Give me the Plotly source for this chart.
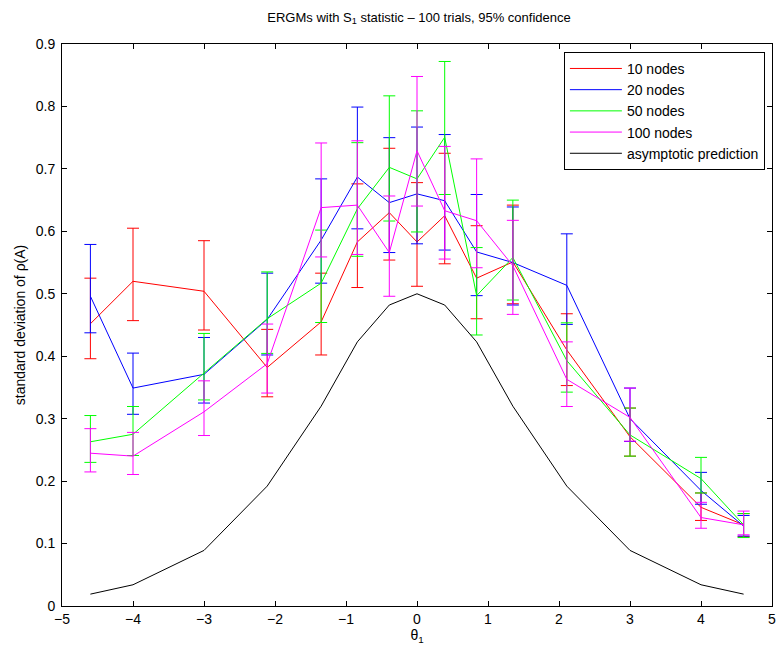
import plotly.graph_objects as go

theta = [-4.6, -4, -3, -2.11, -1.35, -0.84, -0.39, 0, 0.39, 0.84, 1.35, 2.11, 3, 4, 4.6]

n10_mean = [0.452, 0.520, 0.504, 0.382, 0.455, 0.583, 0.630, 0.583, 0.625, 0.525, 0.551, 0.410, 0.271, 0.158, 0.130]
n10_hi   = [0.525, 0.605, 0.585, 0.443, 0.533, 0.676, 0.733, 0.678, 0.725, 0.609, 0.642, 0.468, 0.317, 0.181, 0.148]
n10_lo   = [0.396, 0.457, 0.442, 0.335, 0.402, 0.510, 0.554, 0.512, 0.548, 0.460, 0.484, 0.353, 0.240, 0.137, 0.111]

n20_mean = [0.496, 0.349, 0.371, 0.459, 0.586, 0.687, 0.646, 0.660, 0.649, 0.567, 0.550, 0.5135, 0.300, 0.185, 0.128]
n20_hi   = [0.579, 0.405, 0.430, 0.533, 0.684, 0.799, 0.750, 0.767, 0.755, 0.659, 0.639, 0.596, 0.349, 0.214, 0.145]
n20_lo   = [0.4375, 0.307, 0.325, 0.402, 0.517, 0.604, 0.566, 0.580, 0.570, 0.497, 0.482, 0.451, 0.2635, 0.163, 0.112]

n50_mean = [0.263, 0.275, 0.373, 0.460, 0.517, 0.636, 0.7025, 0.684, 0.7506, 0.497, 0.558, 0.393, 0.274, 0.204, 0.130]
n50_hi   = [0.305, 0.3195, 0.4365, 0.535, 0.602, 0.742, 0.817, 0.793, 0.872, 0.574, 0.650, 0.4535, 0.317, 0.238, 0.148]
n50_lo   = [0.230, 0.241, 0.330, 0.4045, 0.454, 0.560, 0.6165, 0.599, 0.659, 0.434, 0.490, 0.3425, 0.240, 0.181, 0.1096]

n100_mean = [0.2447, 0.240, 0.311, 0.388, 0.638, 0.642, 0.566, 0.729, 0.633, 0.617, 0.545, 0.363, 0.302, 0.1417, 0.130]
n100_hi   = [0.284, 0.278, 0.3606, 0.4515, 0.7415, 0.745, 0.6566, 0.848, 0.736, 0.716, 0.6176, 0.423, 0.349, 0.166, 0.152]
n100_lo   = [0.2147, 0.2106, 0.273, 0.341, 0.559, 0.563, 0.496, 0.6405, 0.5556, 0.5417, 0.467, 0.3195, 0.264, 0.1245, 0.114]

asymptotic = [0.019, 0.034, 0.089, 0.192, 0.32, 0.423, 0.482, 0.5, 0.482, 0.423, 0.32, 0.192, 0.089, 0.034, 0.019]

series = [
    ("10 nodes", n10_mean, n10_hi, n10_lo, "#FF0000"),
    ("20 nodes", n20_mean, n20_hi, n20_lo, "#0000FF"),
    ("50 nodes", n50_mean, n50_hi, n50_lo, "#00FF00"),
    ("100 nodes", n100_mean, n100_hi, n100_lo, "#FF00FF"),
]

y_ticks = [0, 0.1, 0.2, 0.3, 0.4, 0.5, 0.6, 0.7, 0.8, 0.9]
y_ticklabels = ["0", "0.1", "0.2", "0.3", "0.4", "0.5", "0.6", "0.7", "0.8", "0.9"]
x_ticks = [-5, -4, -3, -2, -1, 0, 1, 2, 3, 4, 5]
x_ticklabels = ["\u22125", "\u22124", "\u22123", "\u22122", "\u22121", "0", "1", "2", "3", "4", "5"]

FONT = "Liberation Sans, Arial, Helvetica, sans-serif"

fig = go.Figure()
for name, m, hi, lo, col in series:
    fig.add_trace(go.Scatter(
        x=theta, y=m, mode="lines", name=name,
        line=dict(color=col, width=1),
        error_y=dict(type="data", symmetric=False,
                     array=[h - v for h, v in zip(hi, m)],
                     arrayminus=[v - l for v, l in zip(m, lo)],
                     color=col, thickness=1, width=6),
    ))
fig.add_trace(go.Scatter(
    x=theta, y=asymptotic, mode="lines", name="asymptotic prediction",
    line=dict(color="#000000", width=1),
))

axis_common = dict(
    showgrid=False, zeroline=False, showline=True, linecolor="black", linewidth=1,
    mirror="ticks", ticks="inside", ticklen=5, tickcolor="black", tickwidth=1,
    tickfont=dict(family=FONT, size=14, color="black"),
)

fig.update_layout(
    width=781, height=653,
    margin=dict(l=62, r=5, t=44, b=47),
    paper_bgcolor="white", plot_bgcolor="white",
    font=dict(family=FONT, size=14, color="black"),
    title=dict(text="ERGMs with S<sub>1</sub> statistic \u2013 100 trials, 95% confidence",
               x=0.5365, xanchor="center", y=0.974, yanchor="middle",
               font=dict(family=FONT, size=13, color="black")),
    xaxis=dict(range=[-5, 5], tickvals=x_ticks, ticktext=x_ticklabels,
               title=dict(text="\u03b8<sub>1</sub>", standoff=2,
                          font=dict(family=FONT, size=14)),
               **axis_common),
    yaxis=dict(range=[0, 0.9], tickvals=y_ticks, ticktext=y_ticklabels,
               ticklabelstandoff=3,
               title=dict(text="standard deviation of \u03c1(A)", standoff=6,
                          font=dict(family=FONT, size=14)),
               **axis_common),
    legend=dict(x=0.990, y=0.986, xanchor="right", yanchor="top",
                bgcolor="white", bordercolor="black", borderwidth=1,
                font=dict(family=FONT, size=14, color="black"),
                itemwidth=52, tracegroupgap=0),
    showlegend=True,
)

fig.write_html("out.html")
